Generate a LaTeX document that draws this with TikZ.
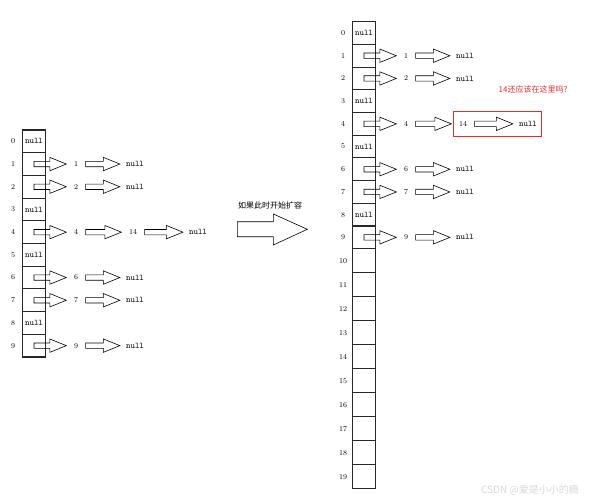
\documentclass[tikz,border=0pt]{standalone}
\usepackage{fontspec}
\usetikzlibrary{calc,positioning,fit}
\newfontfamily\cjk{Noto Sans CJK SC}
\definecolor{cellline}{RGB}{40,40,40}
\definecolor{markred}{RGB}{225,45,45}
\definecolor{markgray}{RGB}{215,215,215}
\tikzset{
    % table cells and the texts around them
    bucket/.style={
        rectangle, draw=cellline, line width=1.1pt,
        minimum width=23.5pt, inner sep=0pt
    },
    cellnull/.style={inner sep=0pt, font=\fontsize{8.5}{10}\selectfont\ttfamily},
    idx/.style={inner sep=1pt, font=\fontsize{7.5}{9}\selectfont},
    entry/.style={inner xsep=7.5pt, inner ysep=1pt, font=\fontsize{7.5}{9}\selectfont},
    tailnull/.style={inner xsep=6pt, inner ysep=1pt, font=\fontsize{8.5}{10}\selectfont\ttfamily},
    % hollow block arrows
    hollow/.style={draw=black, line width=0.6pt, line join=miter},
    note/.style={font=\cjk\fontsize{8}{9}\selectfont}
}
% hollow arrow from #1 to #2 (horizontal)
\newcommand{\harrow}[2]{%
  \draw[hollow] let \p1=(#1), \p2=(#2) in
    (\x1,\y1+2.7pt) -- (\x2-16.5pt,\y1+2.7pt) -- (\x2-16.5pt,\y1+6.7pt) -- (\x2,\y1)
    -- (\x2-16.5pt,\y1-6.7pt) -- (\x2-16.5pt,\y1-2.7pt) -- (\x1,\y1-2.7pt) -- cycle;}

\begin{document}
\begin{tikzpicture}[x=1pt,y=-1pt]
\useasboundingbox (0,0) rectangle (596,500);

% old table (10 buckets)
\foreach \i in {0,...,9} {
  \node[bucket, minimum height=22.7pt] (l\i) at (34,{130+(\i+0.5)*22.7}) {};
  \node[idx] (li\i) at ($(l\i)+(-21,0)$) {\i};
}
\foreach \i in {0,3,5,8}
  \node[cellnull] (lc\i) at (l\i) {null};

\foreach \i in {1,2,6,7,9} {
  \node[entry] (lk\i) at ($(l\i)+(42,0)$) {\i};
  \node[tailnull] (lt\i) at ($(l\i)+(101,0)$) {null};
  \harrow{l\i.center}{lk\i.west}
  \harrow{lk\i.east}{lt\i.west}
}
\node[entry] (lk4) at ($(l4)+(42,0)$) {4};
\node[entry] (lm4) at ($(l4)+(99,0)$) {14};
\node[tailnull] (lt4) at ($(l4)+(164,0)$) {null};
\harrow{l4.center}{lk4.west}
\harrow{lk4.east}{lm4.west}
\harrow{lm4.east}{lt4.west}

% resize arrow
\node[note] (resize) at (270,205) {如果此时开始扩容};
\draw[hollow] (237.3,221.7) -- (273.3,221.7) -- (273.3,214) -- (307.3,229.3)
  -- (273.3,245) -- (273.3,236.7) -- (237.3,236.7) -- cycle;

% new table (20 buckets)
\foreach \i in {0,...,9} {
  \node[bucket, minimum height=22.7pt] (r\i) at (364,{21.7+(\i+0.5)*22.7}) {};
  \node[idx] (ri\i) at ($(r\i)+(-21,0)$) {\i};
}
\foreach \i in {10,...,19} {
  \node[bucket, minimum height=24pt] (r\i) at (364,{248.7+(\i-9.5)*24}) {};
  \node[idx] (ri\i) at ($(r\i)+(-21,0)$) {\i};
}
\foreach \i in {0,3,5,8}
  \node[cellnull] (rc\i) at (r\i) {null};

\foreach \i in {1,2,6,7,9} {
  \node[entry] (rk\i) at ($(r\i)+(42,0)$) {\i};
  \node[tailnull] (rt\i) at ($(r\i)+(101,0)$) {null};
  \harrow{r\i.center}{rk\i.west}
  \harrow{rk\i.east}{rt\i.west}
}
\node[entry] (rk4) at ($(r4)+(42,0)$) {4};
\node[entry] (rm4) at ($(r4)+(99,0)$) {14};
\node[tailnull] (rt4) at ($(r4)+(164,0)$) {null};
\harrow{r4.center}{rk4.west}
\harrow{rk4.east}{rm4.west}
\harrow{rm4.east}{rt4.west}

% question
\node[draw=markred, line width=0.9pt, inner xsep=-2pt, inner ysep=9pt, fit=(rm4)(rt4)] (box) {};
\node[note, text=markred] (ask) at (533,89) {14还应该在这里吗?};

\node[font=\cjk\fontsize{10}{12}\selectfont, text=markgray] (mark) at (530,490) {CSDN @爱是小小的瘾};

\end{tikzpicture}
\end{document}
